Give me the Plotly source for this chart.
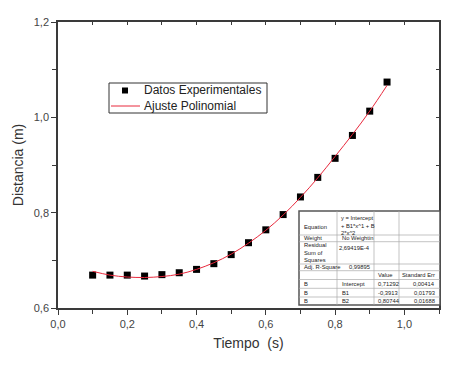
import plotly.graph_objects as go

# ---------------- data ----------------
tiempo = [0.10, 0.15, 0.20, 0.25, 0.30, 0.35, 0.40, 0.45, 0.50,
          0.55, 0.60, 0.65, 0.70, 0.75, 0.80, 0.85, 0.90, 0.95]
distancia = [0.669, 0.669, 0.669, 0.667, 0.670, 0.674, 0.681, 0.693, 0.712,
             0.737, 0.764, 0.796, 0.833, 0.874, 0.914, 0.962, 1.013, 1.074]
ajuste = [0.677, 0.669, 0.665, 0.664, 0.666, 0.671, 0.681, 0.695, 0.713,
          0.736, 0.763, 0.795, 0.832, 0.873, 0.918, 0.964, 1.013, 1.067]

serie_datos = "Datos Experimentales"
serie_ajuste = "Ajuste Polinomial"
titulo_x = "Tiempo  (s)"
titulo_y = "Distancia (m)"

# fit-report table (text only)
tabla_col1 = ["Equation", "Weight", "Residual<br>Sum of<br>Squares", "Adj. R-Square", "", "B", "B", "B"]
tabla_col2 = ["y = Intercept<br>+ B1*x^1 + B<br>2*x^2", "No Weightin", "2,69419E-4", "0,99895", "",
              "Intercept", "B1", "B2"]
tabla_col3 = ["", "", "", "", "Value", "0,71292", "-0,3913", "0,80744"]
tabla_col4 = ["", "", "", "", "Standard Err", "0,00414", "0,01793", "0,01688"]

# ---------------- layout geometry (screen pixels) ----------------
W, H = 466, 369
OFF = 8  # default body margin of the page
FW, FH = W - 2 * OFF, H - 2 * OFF
PL, PR, PT, PB = 58, 439, 22, 308


def px(x):
    return (x - PL) / (PR - PL)


def py(y):
    return (PB - y) / (PB - PT)


FONT = "Liberation Sans, Arial, sans-serif"
AX = "#3a3a3a"

fig = go.Figure()
fig.add_trace(go.Scatter(
    x=tiempo, y=distancia, mode="markers", name=serie_datos,
    marker=dict(symbol="square", size=7, color="black", line=dict(width=0)),
))
fig.add_trace(go.Scatter(
    x=tiempo, y=ajuste, mode="lines", name=serie_ajuste,
    line=dict(color="#e8283c", width=1, shape="spline"),
))
# invisible trace to activate the mirrored (top/right) axes
fig.add_trace(go.Scatter(
    x=tiempo, y=distancia, xaxis="x2", yaxis="y2", mode="markers",
    marker=dict(opacity=0), showlegend=False, hoverinfo="skip",
))

axis_common = dict(showgrid=False, zeroline=False, showline=True, linecolor=AX, linewidth=1.5,
                   tickcolor=AX, automargin=False,
                   tickfont=dict(family=FONT, size=11, color="#444"))

fig.update_layout(
    width=FW, height=FH,
    margin=dict(l=PL - OFF, r=(W - OFF) - PR, t=PT - OFF, b=(H - OFF) - PB),
    paper_bgcolor="white", plot_bgcolor="white",
    separators=",.",
    font=dict(family=FONT, color="#333"),
    xaxis=dict(range=[0, 1.1], dtick=0.2, tick0=0, tickformat=".1f", ticks="outside",
               ticklen=5, tickwidth=1,
               minor=dict(dtick=0.1, ticks="outside", ticklen=4, tickcolor=AX),
               title=dict(text=titulo_x, font=dict(size=14, color="#333"), standoff=9),
               **axis_common),
    yaxis=dict(range=[0.6, 1.2], dtick=0.2, tick0=0.6, tickformat=".1f", ticks="outside",
               ticklen=5, tickwidth=1,
               minor=dict(dtick=0.1, ticks="outside", ticklen=4, tickcolor=AX),
               title=dict(text=titulo_y, font=dict(size=14, color="#333"), standoff=7),
               **axis_common),
    xaxis2=dict(range=[0, 1.1], overlaying="x", side="top", dtick=0.1, tick0=0, ticks="inside",
                ticklen=3, showticklabels=False, showgrid=False, zeroline=False,
                showline=True, linecolor=AX, linewidth=1.5, tickcolor=AX),
    yaxis2=dict(range=[0.6, 1.2], overlaying="y", side="right", dtick=0.1, tick0=0.6, ticks="inside",
                ticklen=3, showticklabels=False, showgrid=False, zeroline=False,
                showline=True, linecolor=AX, linewidth=1.5, tickcolor=AX),
    showlegend=False,
)

shapes = []
annots = []

# ---------------- legend (drawn) ----------------
shapes.append(dict(type="rect", xref="paper", yref="paper", x0=px(109), x1=px(267),
                   y0=py(113), y1=py(83), fillcolor="white", line=dict(color="#333", width=1)))
shapes.append(dict(type="rect", xref="paper", yref="paper", x0=px(122), x1=px(128),
                   y0=py(93.5), y1=py(87.5), fillcolor="black", line=dict(width=0)))
shapes.append(dict(type="line", xref="paper", yref="paper", x0=px(111), x1=px(140),
                   y0=py(106), y1=py(106), line=dict(color="#e8283c", width=1)))
lf = dict(family=FONT, size=12, color="#222")
annots.append(dict(xref="paper", yref="paper", x=px(142), y=py(90.5), text=serie_datos,
                   xanchor="left", yanchor="middle", showarrow=False, font=lf))
annots.append(dict(xref="paper", yref="paper", x=px(142), y=py(105.5), text=serie_ajuste,
                   xanchor="left", yanchor="middle", showarrow=False, font=lf))

# ---------------- fit report table ----------------
cols_x = [299, 337, 374, 399, 440]
rows_y = [211, 235, 241.7, 264, 270.7, 279.5, 288.3, 297, 305]
shapes.append(dict(type="rect", xref="paper", yref="paper", x0=px(cols_x[0]), x1=px(cols_x[-1]),
                   y0=py(rows_y[-1]), y1=py(rows_y[0]), fillcolor="white",
                   line=dict(color="#555", width=1.5), layer="above"))
for xv in cols_x[1:-1]:
    shapes.append(dict(type="line", xref="paper", yref="paper", x0=px(xv), x1=px(xv),
                       y0=py(rows_y[-1]), y1=py(rows_y[0]), line=dict(color="#aaa", width=0.7)))
for yv in rows_y[1:-1]:
    shapes.append(dict(type="line", xref="paper", yref="paper", x0=px(cols_x[0]), x1=px(cols_x[-1]),
                       y0=py(yv), y1=py(yv), line=dict(color="#aaa", width=0.7)))

tf = dict(family=FONT, size=5.8, color="#222")
text_y = [226.7, 238.3, 252.5, 266.5, 274.5, 284, 292.5, 301]
for i, ty in enumerate(text_y):
    if tabla_col1[i]:
        annots.append(dict(xref="paper", yref="paper", x=px(302), y=py(ty), text=tabla_col1[i],
                           xanchor="left", yanchor="middle", showarrow=False, font=tf, align="left"))
    if tabla_col2[i]:
        if i in (2, 3):
            annots.append(dict(xref="paper", yref="paper", x=px(372), y=py(247.7 if i == 2 else ty),
                               text=tabla_col2[i], xanchor="right", yanchor="middle",
                               showarrow=False, font=tf))
        elif i == 0:
            annots.append(dict(xref="paper", yref="paper", x=px(339), y=py(212.5), text=tabla_col2[i],
                               xanchor="left", yanchor="top", showarrow=False, font=tf, align="left"))
        else:
            annots.append(dict(xref="paper", yref="paper", x=px(340), y=py(ty), text=tabla_col2[i],
                               xanchor="left", yanchor="middle", showarrow=False, font=tf))
    if tabla_col3[i]:
        annots.append(dict(xref="paper", yref="paper", x=px(376), y=py(ty), text=tabla_col3[i],
                           xanchor="left", yanchor="middle", showarrow=False, font=tf))
    if tabla_col4[i]:
        annots.append(dict(xref="paper", yref="paper", x=px(437), y=py(ty), text=tabla_col4[i],
                           xanchor="right", yanchor="middle", showarrow=False, font=tf))

fig.update_layout(shapes=shapes, annotations=annots)

fig.write_html("out.html")
